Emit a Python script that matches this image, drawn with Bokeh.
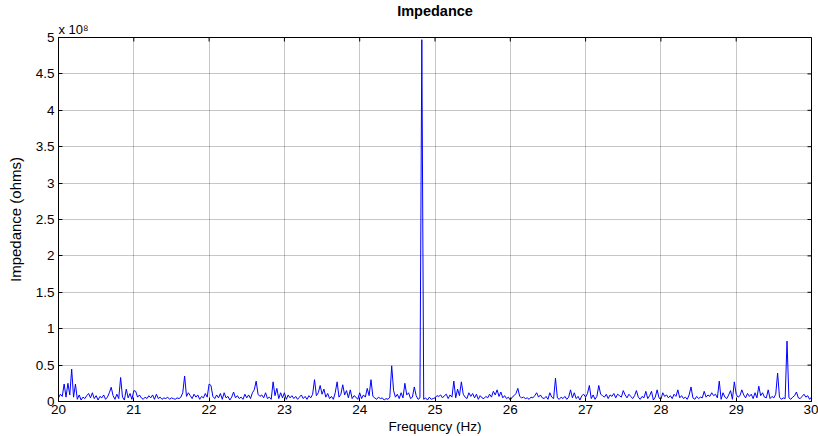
from math import pi
from bokeh.plotting import figure
from bokeh.models import Range1d, FixedTicker, CustomJSTickFormatter, Title
from bokeh.embed import file_html
from bokeh.resources import INLINE

# Frequency grid (Hz)
freq_start = 20.0
freq_step = 0.025

# Impedance values in units of 1e8 ohms, one list per 1 Hz band (40 samples each)
imp_20 = [0.05, 0.10, 0.07, 0.24, 0.06, 0.25, 0.09, 0.445, 0.06, 0.24,
          0.03, 0.09, 0.02, 0.06, 0.04, 0.08, 0.11, 0.05, 0.12, 0.04,
          0.08, 0.02, 0.07, 0.05, 0.09, 0.03, 0.06, 0.12, 0.195, 0.08,
          0.03, 0.10, 0.04, 0.33, 0.06, 0.02, 0.17, 0.05, 0.11, 0.03]
imp_21 = [0.15, 0.14, 0.06, 0.09, 0.05, 0.03, 0.06, 0.04, 0.08, 0.05,
          0.09, 0.03, 0.10, 0.04, 0.06, 0.03, 0.05, 0.04, 0.06, 0.03,
          0.05, 0.04, 0.03, 0.05, 0.04, 0.06, 0.12, 0.35, 0.07, 0.12,
          0.08, 0.04, 0.10, 0.06, 0.09, 0.03, 0.07, 0.05, 0.11, 0.06]
imp_22 = [0.24, 0.22, 0.07, 0.04, 0.09, 0.05, 0.11, 0.03, 0.12, 0.05,
          0.07, 0.02, 0.06, 0.13, 0.05, 0.08, 0.04, 0.06, 0.03, 0.10,
          0.05, 0.09, 0.04, 0.12, 0.16, 0.28, 0.10, 0.07, 0.09, 0.05,
          0.12, 0.04, 0.06, 0.03, 0.27, 0.08, 0.18, 0.04, 0.12, 0.05]
imp_23 = [0.12, 0.03, 0.09, 0.05, 0.08, 0.04, 0.07, 0.03, 0.06, 0.09,
          0.04, 0.07, 0.03, 0.08, 0.05, 0.10, 0.30, 0.08, 0.12, 0.22,
          0.10, 0.17, 0.06, 0.11, 0.04, 0.07, 0.03, 0.12, 0.27, 0.06,
          0.10, 0.23, 0.09, 0.15, 0.05, 0.16, 0.04, 0.08, 0.06, 0.03]
imp_24 = [0.12, 0.04, 0.09, 0.06, 0.18, 0.08, 0.30, 0.07, 0.05, 0.03,
          0.06, 0.04, 0.05, 0.02, 0.04, 0.03, 0.06, 0.49, 0.15, 0.06,
          0.10, 0.04, 0.12, 0.05, 0.25, 0.09, 0.12, 0.04, 0.06, 0.20,
          0.08, 0.03, 0.05, 4.97, 0.03, 0.05, 0.02, 0.06, 0.03, 0.04]
imp_25 = [0.05, 0.08, 0.07, 0.09, 0.05, 0.08, 0.10, 0.04, 0.09, 0.06,
          0.28, 0.05, 0.17, 0.08, 0.27, 0.10, 0.06, 0.04, 0.12, 0.07,
          0.11, 0.05, 0.10, 0.03, 0.08, 0.05, 0.04, 0.07, 0.05, 0.10,
          0.06, 0.14, 0.09, 0.16, 0.07, 0.13, 0.05, 0.08, 0.04, 0.06]
imp_26 = [0.02, 0.06, 0.08, 0.11, 0.18, 0.07, 0.05, 0.06, 0.04, 0.05,
          0.03, 0.06, 0.05, 0.08, 0.12, 0.06, 0.09, 0.05, 0.04, 0.07,
          0.03, 0.12, 0.06, 0.04, 0.32, 0.05, 0.03, 0.06, 0.04, 0.07,
          0.03, 0.06, 0.16, 0.05, 0.12, 0.04, 0.07, 0.02, 0.08, 0.10]
imp_27 = [0.06, 0.11, 0.22, 0.04, 0.09, 0.03, 0.07, 0.22, 0.10, 0.08,
          0.06, 0.10, 0.04, 0.09, 0.07, 0.11, 0.05, 0.10, 0.08, 0.06,
          0.15, 0.09, 0.05, 0.10, 0.07, 0.04, 0.08, 0.15, 0.06, 0.03,
          0.07, 0.05, 0.14, 0.04, 0.08, 0.14, 0.02, 0.06, 0.16, 0.05]
imp_28 = [0.03, 0.12, 0.07, 0.09, 0.05, 0.08, 0.04, 0.10, 0.07, 0.16,
          0.05, 0.08, 0.04, 0.06, 0.03, 0.09, 0.20, 0.05, 0.03, 0.07,
          0.04, 0.06, 0.05, 0.14, 0.06, 0.09, 0.07, 0.12, 0.08, 0.10,
          0.05, 0.28, 0.03, 0.12, 0.06, 0.04, 0.09, 0.15, 0.03, 0.27]
imp_29 = [0.10, 0.06, 0.08, 0.16, 0.09, 0.05, 0.11, 0.07, 0.10, 0.04,
          0.12, 0.05, 0.21, 0.08, 0.12, 0.06, 0.05, 0.16, 0.04, 0.07,
          0.05, 0.10, 0.39, 0.06, 0.03, 0.05, 0.04, 0.83, 0.05, 0.03,
          0.06, 0.08, 0.13, 0.05, 0.04, 0.07, 0.10, 0.06, 0.08, 0.03]
imp_30 = [0.06]

x_ticks = [20, 21, 22, 23, 24, 25, 26, 27, 28, 29, 30]
y_ticks = [0, 0.5, 1, 1.5, 2, 2.5, 3, 3.5, 4, 4.5, 5]

title_text = "Impedance"
x_label = "Frequency (Hz)"
y_label = "Impedance (ohms)"
exp_text = "x 10\u2078"

impedance = (imp_20 + imp_21 + imp_22 + imp_23 + imp_24 + imp_25 + imp_26 +
             imp_27 + imp_28 + imp_29 + imp_30)
freq = [freq_start + i * freq_step for i in range(len(impedance))]
x_min, x_max = x_ticks[0], x_ticks[-1]
y_min, y_max = y_ticks[0], y_ticks[-1]

FONT = "Liberation Sans"

p = figure(width=818, height=436, output_backend="svg", toolbar_location=None,
           title=None, x_range=Range1d(x_min, x_max), y_range=Range1d(y_min, y_max),
           min_border_left=58, min_border_right=7, min_border_top=34,
           min_border_bottom=35, background_fill_color="white",
           border_fill_color="white")
p.outline_line_color = "black"
p.outline_line_width = 1

p.xgrid.grid_line_color = "black"
p.ygrid.grid_line_color = "black"
p.xgrid.grid_line_alpha = 0.45
p.ygrid.grid_line_alpha = 0.45
p.xgrid.grid_line_dash = "1 1"
p.ygrid.grid_line_dash = "1 1"

p.line(freq, impedance, line_color="#0000ff", line_width=1)

# inward tick marks on the right and top edges (MATLAB box style)
p.scatter(x=[x_max] * len(y_ticks), y=y_ticks, marker="dash", size=8,
          line_color="black", line_width=1)
p.scatter(x=x_ticks, y=[y_max] * len(x_ticks), marker="dash", size=8, angle=pi / 2,
          line_color="black", line_width=1)

fmt = CustomJSTickFormatter(code="return tick.toString();")

for ax, ticks in ((p.xaxis[0], x_ticks), (p.yaxis[0], y_ticks)):
    ax.ticker = FixedTicker(ticks=ticks)
    ax.formatter = fmt
    ax.major_tick_in = 4
    ax.major_tick_out = 0
    ax.minor_tick_line_color = None
    ax.axis_line_color = "black"
    ax.major_tick_line_color = "black"
    ax.major_label_text_font = FONT
    ax.major_label_text_font_size = "13.5px"
    ax.major_label_text_color = "black"
    ax.major_label_standoff = 4
    ax.axis_label_text_font = FONT
    ax.axis_label_text_font_style = "normal"
    ax.axis_label_text_color = "black"

xa = p.xaxis[0]
xa.major_label_standoff = 3
xa.axis_label = x_label
xa.axis_label_text_font_size = "13.5px"
xa.axis_label_standoff = 2

ya = p.yaxis[0]
ya.axis_label = y_label
ya.axis_label_text_font_size = "15px"
ya.axis_label_standoff = 9

# exponent (nearest the frame) then the bold title above it
p.add_layout(Title(text=exp_text, align="left", text_font=FONT, text_font_size="13px",
                   text_font_style="normal", text_color="black", standoff=2), "above")
p.add_layout(Title(text=title_text, align="center", text_font=FONT, text_font_size="14.5px",
                   text_font_style="bold", text_color="black", standoff=0), "above")

open("out.html", "w").write(file_html(p, INLINE))
